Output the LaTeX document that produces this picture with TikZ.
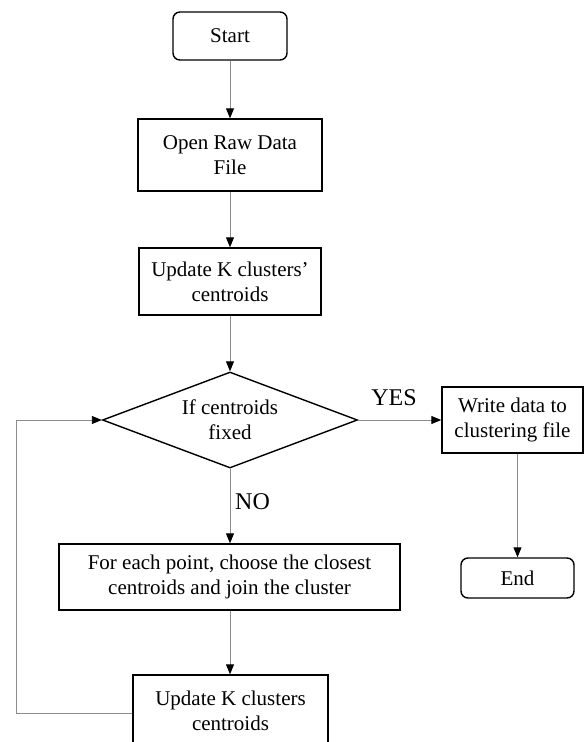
\documentclass[tikz,border=0pt]{standalone}
\usepackage{fontspec}
\setmainfont{Liberation Serif}
\usetikzlibrary{arrows.meta,shapes.geometric}

\tikzset{
  box/.style={draw=black, line width=1.4pt, fill=white, align=center,
    inner sep=0pt, font=\fontsize{21}{25}\selectfont},
  term/.style={box, rounded corners=7pt},
  decision/.style={draw=black, line width=1.4pt, diamond, aspect=2.66,
    inner sep=0pt, align=center, font=\fontsize{21}{25}\selectfont},
  flow/.style={draw=black!45, line width=0.9pt,
    -{Triangle[length=10pt,width=8pt,color=black]}},
  tag/.style={font=\fontsize{24}{28}\selectfont, inner sep=0pt}
}

\begin{document}
\begin{tikzpicture}[x=1pt, y=-1pt]
  \useasboundingbox (0,0) rectangle (584,742);
  \clip (0,0) rectangle (584,742);

  \node[term, minimum width=114pt, minimum height=48pt] (start) at (230,36) {Start};
  \node[box, minimum width=184pt, minimum height=72pt] (open) at (230,155) {Open Raw Data\\File};
  \node[box, minimum width=182pt, minimum height=67pt] (upd1) at (230,281.5) {Update K clusters’\\centroids};
  \node[decision, minimum width=255pt, minimum height=96pt] (dec) at (230,420) {If centroids\\fixed};
  \node[box, minimum width=141pt, minimum height=66pt] (write) at (512.5,420) {Write data to\\clustering file};
  \node[term, minimum width=113pt, minimum height=40pt] (end) at (517.5,578) {End};
  \node[box, minimum width=341pt, minimum height=66pt] (assign) at (229.5,577) {For each point, choose the closest\\centroids and join the cluster};
  \node[box, minimum width=195pt, minimum height=72pt] (upd2) at (230.5,711) {Update K clusters\\centroids};

  \node[tag, anchor=base] (yes) at (394,405) {YES};
  \node[tag, anchor=base west] (no) at (235,509) {NO};

  \coordinate (loopbot) at (16,713);
  \coordinate (looptop) at (16,420);

  \draw[flow] (start) -- (open);
  \draw[flow] (open) -- (upd1);
  \draw[flow] (upd1) -- (dec);
  \draw[flow] (dec) -- (write);
  \draw[flow] (write.south -| end) -- (end);
  \draw[flow] (dec) -- (dec |- assign.north);
  \draw[flow] (assign.south -| dec) -- (upd2.north -| dec);
  \draw[flow] (upd2.west |- loopbot) -- (loopbot) -- (looptop) -- (dec.west);
\end{tikzpicture}
\end{document}
